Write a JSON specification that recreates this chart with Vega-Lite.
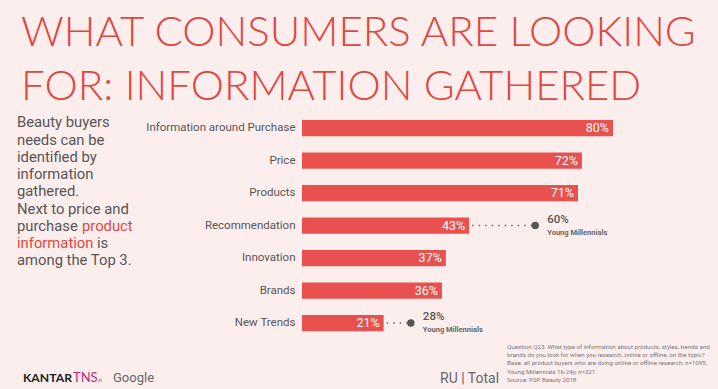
{
  "$schema": "https://vega.github.io/schema/vega-lite/v6.json",
  "width": 311,
  "height": 227.5,
  "autosize": {"type": "none"},
  "padding": {"left": 302, "top": 111.75, "right": 105, "bottom": 49.75},
  "background": "#fdeeee",
  "config": {"view": {"stroke": null}, "font": "Roboto"},
  "title": {
    "text": ["WHAT CONSUMERS ARE LOOKING", "FOR: INFORMATION GATHERED"],
    "anchor": "start",
    "frame": "group",
    "dx": -281,
    "offset": 2.5,
    "font": "'Lato Light', Lato",
    "fontSize": 42,
    "fontWeight": 300,
    "color": "#e0473f",
    "lineHeight": 54.5
  },
  "data": {
    "values": [
      {"cat": "Information around Purchase", "total": 0.80, "ym": null},
      {"cat": "Price", "total": 0.72, "ym": null},
      {"cat": "Products", "total": 0.71, "ym": null},
      {"cat": "Recommendation", "total": 0.43, "ym": 0.60},
      {"cat": "Innovation", "total": 0.37, "ym": null},
      {"cat": "Brands", "total": 0.36, "ym": null},
      {"cat": "New Trends", "total": 0.21, "ym": 0.28}
    ]
  },
  "layer": [
    {
      "encoding": {
        "y": {
          "field": "cat",
          "type": "nominal",
          "sort": null,
          "scale": {"paddingInner": 0.5, "paddingOuter": 0.25},
          "axis": {
            "title": null,
            "domain": false,
            "ticks": false,
            "labelPadding": 7,
            "labelFont": "Roboto",
            "labelFontSize": 11.5,
            "labelColor": "#555555",
            "labelLimit": 300
          }
        }
      },
      "layer": [
        {
          "mark": {"type": "bar", "color": "#e8514e"},
          "encoding": {
            "x": {"field": "total", "type": "quantitative", "scale": {"domain": [0, 0.8], "nice": false}, "axis": null}
          }
        },
        {
          "mark": {"type": "text", "align": "right", "dx": -4, "color": "#ffffff", "fontSize": 12.5, "baseline": "middle"},
          "encoding": {
            "x": {"field": "total", "type": "quantitative", "scale": {"domain": [0, 0.8], "nice": false}, "axis": null},
            "text": {"field": "total", "type": "quantitative", "format": ".0%"}
          }
        },
        {
          "transform": [{"filter": "datum.ym != null"}],
          "mark": {"type": "rule", "color": "#666666", "strokeWidth": 1.6, "strokeDash": [1.5, 5], "strokeDashOffset": -3},
          "encoding": {
            "x": {"field": "total", "type": "quantitative", "scale": {"domain": [0, 0.8], "nice": false}, "axis": null},
            "x2": {"field": "ym"}
          }
        },
        {
          "transform": [{"filter": "datum.ym != null"}],
          "mark": {"type": "point", "filled": true, "color": "#555555", "size": 55, "opacity": 1},
          "encoding": {
            "x": {"field": "ym", "type": "quantitative", "scale": {"domain": [0, 0.8], "nice": false}, "axis": null}
          }
        },
        {
          "transform": [{"filter": "datum.ym != null"}],
          "mark": {"type": "text", "align": "left", "dx": 12, "dy": -6, "color": "#555555", "fontSize": 11.5, "fontWeight": 500, "baseline": "middle"},
          "encoding": {
            "x": {"field": "ym", "type": "quantitative", "scale": {"domain": [0, 0.8], "nice": false}, "axis": null},
            "text": {"field": "ym", "type": "quantitative", "format": ".0%"}
          }
        },
        {
          "transform": [{"filter": "datum.ym != null"}],
          "mark": {"type": "text", "align": "left", "dx": 12, "dy": 7, "color": "#666666", "fontSize": 7.5, "fontWeight": "bold", "baseline": "middle", "text": "Young Millennials"},
          "encoding": {
            "x": {"field": "ym", "type": "quantitative", "scale": {"domain": [0, 0.8], "nice": false}, "axis": null}
          }
        }
      ]
    },
    {
      "data": {"values": [{}]},
      "mark": {"type": "text", "align": "left", "baseline": "alphabetic", "x": -285, "y": 15.5, "fontSize": 14.8, "lineHeight": 17.25, "color": "#555555", "font": "Roboto",
        "text": ["Beauty buyers", "needs can be", "identified by", "information", "gathered.", "Next to price and", "purchase"]},
      "encoding": {}
    },
    {
      "data": {"values": [{}]},
      "mark": {"type": "text", "align": "left", "baseline": "alphabetic", "x": -220, "y": 119, "fontSize": 14.8, "color": "#e0473f", "font": "Roboto", "text": "product"},
      "encoding": {}
    },
    {
      "data": {"values": [{}]},
      "mark": {"type": "text", "align": "left", "baseline": "alphabetic", "x": -285, "y": 136.25, "fontSize": 14.8, "color": "#e0473f", "font": "Roboto", "text": "information"},
      "encoding": {}
    },
    {
      "data": {"values": [{}]},
      "mark": {"type": "text", "align": "left", "baseline": "alphabetic", "x": -205, "y": 136.25, "fontSize": 14.8, "color": "#555555", "font": "Roboto", "text": "is"},
      "encoding": {}
    },
    {
      "data": {"values": [{}]},
      "mark": {"type": "text", "align": "left", "baseline": "alphabetic", "x": -285, "y": 153.5, "fontSize": 14.8, "color": "#555555", "font": "Roboto", "text": "among the Top 3."},
      "encoding": {}
    },
    {
      "data": {"values": [{}]},
      "mark": {"type": "text", "align": "left", "baseline": "alphabetic", "x": -279, "y": 270.25, "fontSize": 12.2, "fontWeight": "bold", "color": "#222222", "font": "Lato", "text": "KANTAR"},
      "encoding": {}
    },
    {
      "data": {"values": [{}]},
      "mark": {"type": "text", "align": "left", "baseline": "alphabetic", "x": -229, "y": 270.25, "fontSize": 13, "color": "#c0287a", "font": "Lato", "text": "TNS"},
      "encoding": {}
    },
    {
      "data": {"values": [{}]},
      "mark": {"type": "text", "align": "left", "baseline": "alphabetic", "x": -205, "y": 270.25, "fontSize": 6, "color": "#c0287a", "font": "Lato", "text": ".n"},
      "encoding": {}
    },
    {
      "data": {"values": [{}]},
      "mark": {"type": "text", "align": "left", "baseline": "alphabetic", "x": -189, "y": 270.25, "fontSize": 13, "color": "#666666", "font": "Roboto", "text": "Google"},
      "encoding": {}
    },
    {
      "data": {"values": [{}]},
      "mark": {"type": "text", "align": "left", "baseline": "alphabetic", "x": 138, "y": 271.5, "fontSize": 14, "color": "#666666", "font": "Roboto", "text": "RU | Total"},
      "encoding": {}
    },
    {
      "data": {"values": [{}]},
      "mark": {"type": "text", "align": "left", "baseline": "alphabetic", "x": 205, "y": 237.5, "fontSize": 6.2, "lineHeight": 8.1, "color": "#777777", "font": "Roboto",
        "text": ["Question Q23: What type of information about products, styles, trends and", "brands do you look for when you research, online or offline, on the topic?", "Base: all product buyers who are doing online or offline research, n=1095.", "Young Millennials 16-24y, n=321.", "Source: P2P Beauty 2018"]},
      "encoding": {}
    }
  ]
}
